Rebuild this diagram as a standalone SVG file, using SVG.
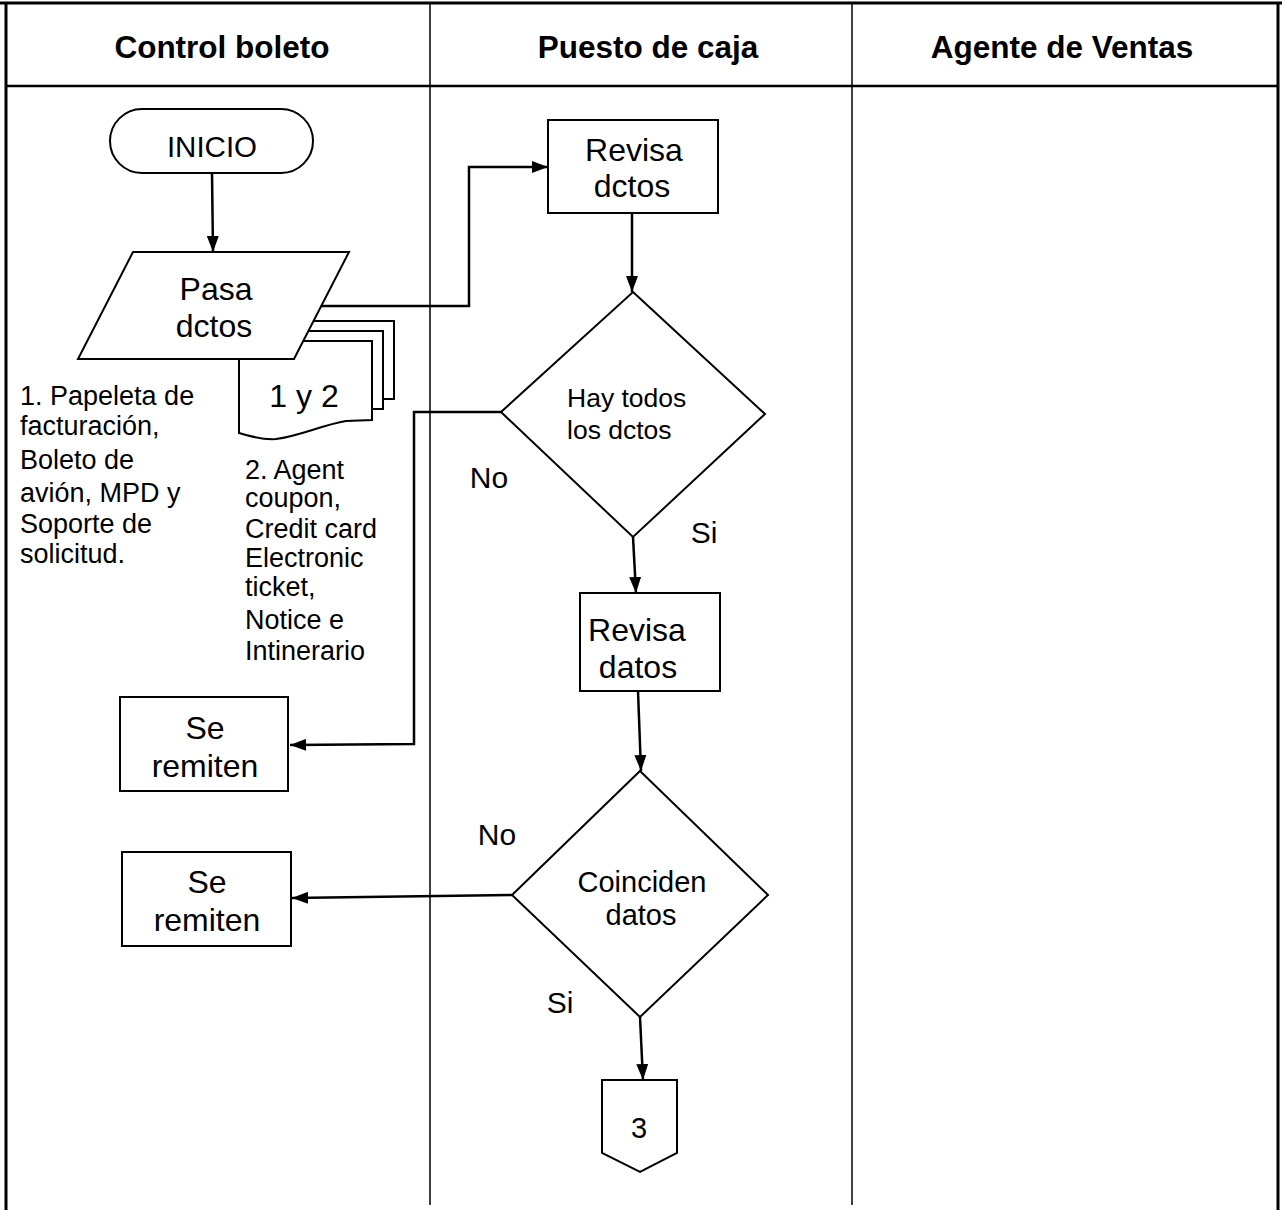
<svg xmlns="http://www.w3.org/2000/svg" width="1284" height="1210" viewBox="0 0 1284 1210">
  <defs>
    <marker id="arrow" viewBox="0 0 16 12" refX="16" refY="6" markerWidth="16" markerHeight="12" markerUnits="userSpaceOnUse" orient="auto">
      <path d="M0,0 L16,6 L0,12 z" fill="#000"/>
    </marker>
    <style>
      text { font-family: "Liberation Sans", Arial, sans-serif; fill: #000; }
      .hdr { font-size: 31.5px; font-weight: bold; text-anchor: middle; }
      .lbl { font-size: 32px; text-anchor: middle; }
      .sm { font-size: 27px; }
      .shape { fill: #fff; stroke: #000; stroke-width: 2; }
      .grid { stroke: #000; fill: none; }
      .conn { stroke: #000; stroke-width: 2.5; fill: none; }
    </style>
  </defs>
  <rect width="1284" height="1210" fill="#fff"/>

  <!-- swimlane table -->
  <g id="lanes">
    <line class="grid" x1="0" y1="3" x2="1282" y2="3" stroke-width="3"/>
    <line class="grid" x1="6" y1="2" x2="6" y2="1210" stroke-width="3"/>
    <line class="grid" x1="1278" y1="2" x2="1278" y2="1210" stroke-width="3"/>
    <line class="grid" x1="6" y1="86" x2="1278" y2="86" stroke-width="2.5"/>
    <line class="grid" x1="430" y1="3" x2="430" y2="1205" stroke-width="1.5"/>
    <line class="grid" x1="852" y1="3" x2="852" y2="1205" stroke-width="1.5"/>
    <text class="hdr" x="222" y="58">Control boleto</text>
    <text class="hdr" x="648" y="58">Puesto de caja</text>
    <text class="hdr" x="1062" y="58">Agente de Ventas</text>
  </g>

  <!-- connectors -->
  <g id="connectors">
    <path class="conn" d="M212,173 L213,252" marker-end="url(#arrow)"/>
    <path class="conn" d="M318,306 L469,306 L469,167 L548,167" marker-end="url(#arrow)"/>
    <path class="conn" d="M632,213 L632,292" marker-end="url(#arrow)"/>
    <path class="conn" d="M501,412 L414,412 L414,744 L290,745" marker-end="url(#arrow)"/>
    <path class="conn" d="M633,537 L636,593" marker-end="url(#arrow)"/>
    <path class="conn" d="M638,691 L641,771" marker-end="url(#arrow)"/>
    <path class="conn" d="M512,895 L292,898" marker-end="url(#arrow)"/>
    <path class="conn" d="M640,1017 L643,1080" marker-end="url(#arrow)"/>
  </g>

  <!-- documents 1 y 2 (stack) -->
  <g id="docs">
    <rect class="shape" x="300" y="321" width="94" height="78"/>
    <rect class="shape" x="300" y="331" width="83" height="78"/>
    <path class="shape" d="M239,359 L239,433 C252,437 264,440 276,439 C300,436 322,425 346,421 L372,420 L372,341 L300,341"/>
    <text class="lbl" x="304" y="407">1 y 2</text>
  </g>

  <g id="inicio">
    <rect class="shape" x="110" y="109" width="203" height="64" rx="32"/>
    <text class="lbl" x="212" y="157" style="font-size:29.5px">INICIO</text>
  </g>

  <g id="pasa-dctos">
    <polygon class="shape" points="133,252 349,252 294,359 78,359"/>
    <text class="lbl" x="216" y="300">Pasa</text>
    <text class="lbl" x="214" y="337">dctos</text>
  </g>

  <g id="nota-1">
    <text class="sm" x="20" y="405">1. Papeleta de</text>
    <text class="sm" x="20" y="435">facturación,</text>
    <text class="sm" x="20" y="469">Boleto de</text>
    <text class="sm" x="20" y="502">avión, MPD y</text>
    <text class="sm" x="20" y="533">Soporte de</text>
    <text class="sm" x="20" y="563">solicitud.</text>
  </g>

  <g id="nota-2">
    <text class="sm" x="245" y="479">2. Agent</text>
    <text class="sm" x="245" y="507">coupon,</text>
    <text class="sm" x="245" y="538">Credit card</text>
    <text class="sm" x="245" y="567">Electronic</text>
    <text class="sm" x="245" y="596">ticket,</text>
    <text class="sm" x="245" y="629">Notice e</text>
    <text class="sm" x="245" y="660">Intinerario</text>
  </g>

  <g id="revisa-dctos">
    <rect class="shape" x="548" y="120" width="170" height="93"/>
    <text class="lbl" x="634" y="161">Revisa</text>
    <text class="lbl" x="632" y="197">dctos</text>
  </g>

  <g id="hay-todos">
    <polygon class="shape" points="633,292 765,414 633,537 501,412"/>
    <text class="sm" x="567" y="407" style="font-size:26.5px">Hay todos</text>
    <text class="sm" x="567" y="439" style="font-size:26.5px">los dctos</text>
    <text class="lbl" x="489" y="488" style="font-size:30px">No</text>
    <text class="lbl" x="704" y="543" style="font-size:30px">Si</text>
  </g>

  <g id="revisa-datos">
    <rect class="shape" x="580" y="593" width="140" height="98"/>
    <text class="lbl" x="637" y="641">Revisa</text>
    <text class="lbl" x="638" y="678">datos</text>
  </g>

  <g id="se-remiten-1">
    <rect class="shape" x="120" y="697" width="168" height="94"/>
    <text class="lbl" x="205" y="739">Se</text>
    <text class="lbl" x="205" y="777">remiten</text>
  </g>

  <g id="coinciden">
    <polygon class="shape" points="640,771 768,895 640,1017 512,895"/>
    <text class="lbl" x="642" y="892" style="font-size:29px">Coinciden</text>
    <text class="lbl" x="641" y="925" style="font-size:29px">datos</text>
    <text class="lbl" x="497" y="845" style="font-size:30px">No</text>
    <text class="lbl" x="560" y="1013" style="font-size:30px">Si</text>
  </g>

  <g id="se-remiten-2">
    <rect class="shape" x="122" y="852" width="169" height="94"/>
    <text class="lbl" x="207" y="893">Se</text>
    <text class="lbl" x="207" y="931">remiten</text>
  </g>

  <g id="conector-3">
    <polygon class="shape" points="602,1080 677,1080 677,1153 640,1172 602,1153"/>
    <text class="lbl" x="639" y="1138" style="font-size:29px">3</text>
  </g>
</svg>
